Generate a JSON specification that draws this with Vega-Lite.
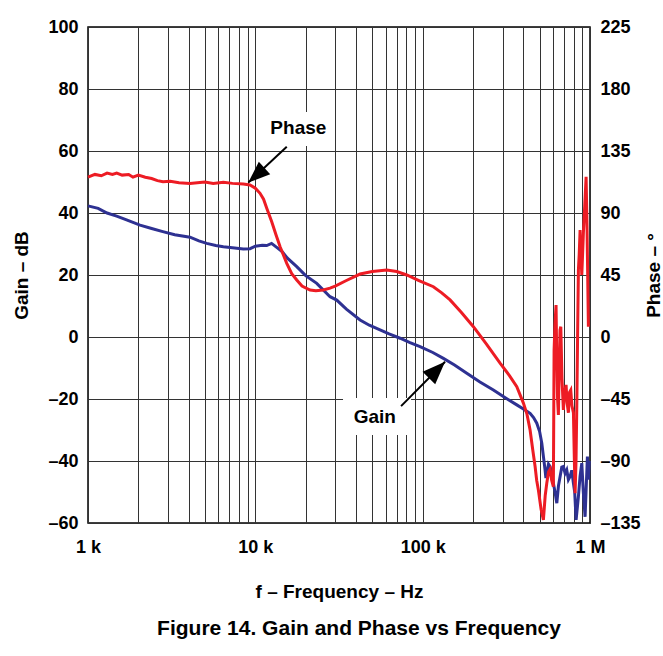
{
  "$schema": "https://vega.github.io/schema/vega-lite/v6.json",
  "width": 502,
  "height": 496,
  "autosize": {"type": "none"},
  "padding": {"left": 88, "top": 27, "right": 73, "bottom": 133},
  "background": "white",
  "config": {
    "view": {"stroke": "black", "strokeWidth": 1.5},
    "axis": {
      "labelFont": "Liberation Sans",
      "labelFontWeight": "bold",
      "labelFontSize": 18,
      "labelColor": "black",
      "titleFont": "Liberation Sans",
      "titleFontWeight": "bold",
      "titleFontSize": 19,
      "titleColor": "black",
      "ticks": false,
      "domain": false,
      "gridColor": "#333333",
      "gridWidth": 1,
      "gridOpacity": 1,
      "labelOverlap": false
    }
  },
  "title": {
    "text": "Figure 14. Gain and Phase vs Frequency",
    "orient": "bottom",
    "anchor": "middle",
    "font": "Liberation Sans",
    "fontSize": 21,
    "fontWeight": "bold",
    "color": "black",
    "dx": 20,
    "offset": 17
  },
  "datasets": {
    "gain": [
      {"f": 1000, "g": 42.3}, {"f": 1150, "g": 41.5}, {"f": 1300, "g": 40}, {"f": 1484, "g": 39},
      {"f": 1700, "g": 37.8}, {"f": 2046, "g": 36.1}, {"f": 2400, "g": 35}, {"f": 2800, "g": 34},
      {"f": 3300, "g": 33}, {"f": 4071, "g": 32.2}, {"f": 4600, "g": 31}, {"f": 5123, "g": 30.2},
      {"f": 5800, "g": 29.5}, {"f": 6438, "g": 29.1}, {"f": 7300, "g": 28.8}, {"f": 8478, "g": 28.4},
      {"f": 9300, "g": 28.5}, {"f": 10000, "g": 29.3}, {"f": 11000, "g": 29.6}, {"f": 11700, "g": 29.5},
      {"f": 12500, "g": 30.2}, {"f": 13420, "g": 28.9}, {"f": 14500, "g": 27.5}, {"f": 15500, "g": 25.5},
      {"f": 17680, "g": 22.7}, {"f": 20000, "g": 19.8}, {"f": 23280, "g": 17.3}, {"f": 27960, "g": 13},
      {"f": 30660, "g": 11.9}, {"f": 35000, "g": 9}, {"f": 42260, "g": 5.5}, {"f": 48000, "g": 3.8},
      {"f": 55610, "g": 2.3}, {"f": 63000, "g": 1}, {"f": 73280, "g": -0.4}, {"f": 84000, "g": -1.8},
      {"f": 96460, "g": -3.1}, {"f": 115000, "g": -5}, {"f": 133000, "g": -6.9}, {"f": 155000, "g": -9},
      {"f": 183500, "g": -11.7}, {"f": 220000, "g": -14.5}, {"f": 264600, "g": -17.1}, {"f": 310000, "g": -19.5},
      {"f": 365200, "g": -21.9}, {"f": 400000, "g": -23.2}, {"f": 438500, "g": -24.6}, {"f": 460000, "g": -26},
      {"f": 480800, "g": -27.8}, {"f": 500000, "g": -30.5}, {"f": 515200, "g": -34.3}, {"f": 528000, "g": -39},
      {"f": 539000, "g": -42.9}, {"f": 545000, "g": -45.5}, {"f": 552000, "g": -44}, {"f": 565000, "g": -41},
      {"f": 577500, "g": -41.8}, {"f": 590000, "g": -44}, {"f": 604000, "g": -47.2}, {"f": 618000, "g": -50},
      {"f": 633400, "g": -53.6}, {"f": 648000, "g": -48}, {"f": 662800, "g": -45}, {"f": 678000, "g": -42},
      {"f": 693400, "g": -41.8}, {"f": 710000, "g": -44}, {"f": 726200, "g": -42.9}, {"f": 743000, "g": -46},
      {"f": 760300, "g": -45}, {"f": 778000, "g": -43}, {"f": 796000, "g": -47.2}, {"f": 810000, "g": -50},
      {"f": 826000, "g": -59}, {"f": 840000, "g": -55}, {"f": 852500, "g": -51.5}, {"f": 872000, "g": -45},
      {"f": 893300, "g": -40.7}, {"f": 912000, "g": -50}, {"f": 934800, "g": -58}, {"f": 950000, "g": -48},
      {"f": 965000, "g": -38.6}, {"f": 978200, "g": -46}, {"f": 990000, "g": -40}
    ],
    "phase": [
      {"f": 1000, "p": 116}, {"f": 1100, "p": 118}, {"f": 1200, "p": 117}, {"f": 1300, "p": 119},
      {"f": 1400, "p": 118}, {"f": 1484, "p": 119}, {"f": 1600, "p": 117.5}, {"f": 1750, "p": 118},
      {"f": 1858, "p": 116}, {"f": 2000, "p": 117.5}, {"f": 2200, "p": 116}, {"f": 2400, "p": 115},
      {"f": 2600, "p": 113.5}, {"f": 2808, "p": 112.7}, {"f": 3100, "p": 113}, {"f": 3500, "p": 112},
      {"f": 4071, "p": 111.5}, {"f": 4500, "p": 112}, {"f": 5000, "p": 112.5}, {"f": 5600, "p": 111.5},
      {"f": 6438, "p": 112.3}, {"f": 7300, "p": 111.5}, {"f": 8478, "p": 111}, {"f": 9290, "p": 110.4},
      {"f": 10000, "p": 108}, {"f": 10670, "p": 104.3}, {"f": 11200, "p": 100}, {"f": 11700, "p": 93.4},
      {"f": 12530, "p": 83.7}, {"f": 13300, "p": 74}, {"f": 14060, "p": 65.5}, {"f": 15410, "p": 53.5},
      {"f": 16500, "p": 46}, {"f": 17680, "p": 41.4}, {"f": 19000, "p": 37}, {"f": 21230, "p": 34.1},
      {"f": 23000, "p": 33.5}, {"f": 25480, "p": 34.1}, {"f": 27960, "p": 35.5}, {"f": 30000, "p": 37},
      {"f": 35000, "p": 41}, {"f": 42260, "p": 45.7}, {"f": 50000, "p": 47.5}, {"f": 61000, "p": 48.6},
      {"f": 70000, "p": 47.5}, {"f": 80350, "p": 45}, {"f": 95000, "p": 41}, {"f": 115900, "p": 36.5},
      {"f": 130000, "p": 32}, {"f": 145800, "p": 26.9}, {"f": 170000, "p": 18}, {"f": 201000, "p": 7.5},
      {"f": 240000, "p": -5}, {"f": 290100, "p": -19}, {"f": 330000, "p": -28}, {"f": 365200, "p": -36},
      {"f": 399900, "p": -48}, {"f": 420000, "p": -56}, {"f": 438500, "p": -67.5}, {"f": 455000, "p": -82},
      {"f": 469800, "p": -94}, {"f": 480000, "p": -104}, {"f": 491500, "p": -111}, {"f": 510000, "p": -125},
      {"f": 526600, "p": -132.8}, {"f": 540000, "p": -115}, {"f": 551900, "p": -106}, {"f": 565000, "p": -98},
      {"f": 577500, "p": -96}, {"f": 590000, "p": -104}, {"f": 604000, "p": -108.6}, {"f": 607000, "p": -60},
      {"f": 610100, "p": -9.4}, {"f": 618000, "p": 10}, {"f": 626800, "p": 23.2}, {"f": 632000, "p": -10},
      {"f": 640000, "p": -45}, {"f": 647300, "p": -56.6}, {"f": 655000, "p": -20}, {"f": 662000, "p": 5},
      {"f": 669200, "p": 7.5}, {"f": 680000, "p": -30}, {"f": 693400, "p": -53}, {"f": 705000, "p": -40},
      {"f": 719500, "p": -34.8}, {"f": 730000, "p": -48}, {"f": 742900, "p": -55}, {"f": 755000, "p": -40},
      {"f": 767400, "p": -38.5}, {"f": 780000, "p": -50}, {"f": 796000, "p": -55}, {"f": 805000, "p": -85},
      {"f": 814700, "p": -113.4}, {"f": 825000, "p": -90}, {"f": 834400, "p": -48}, {"f": 843000, "p": 0},
      {"f": 852500, "p": 48.6}, {"f": 862000, "p": 60}, {"f": 872600, "p": 77.7}, {"f": 882000, "p": 60},
      {"f": 893300, "p": 45}, {"f": 903000, "p": 60}, {"f": 912900, "p": 75.3}, {"f": 930000, "p": 95},
      {"f": 947800, "p": 116.3}, {"f": 960000, "p": 80}, {"f": 978200, "p": 7.5}
    ],
    "notes": [
      {"label": "Phase", "tf": 18070, "tg": 67.5, "af1": 15410, "ag1": 61.4, "af2": 9080, "ag2": 49.8,
       "bf1": 10970, "bf2": 28740, "bg1": 72.6, "bg2": 61.6},
      {"label": "Gain", "tf": 51730, "tg": -25.7, "af1": 74300, "ag1": -22.3, "af2": 136100, "ag2": -8.0,
       "bf1": 33420, "bf2": 85260, "bg1": -19.7, "bg2": -31.6}
    ]
  },
  "layer": [
    {
      "data": {"name": "gain"},
      "mark": {"type": "line", "color": "#2E3192", "strokeWidth": 3, "interpolate": "linear"},
      "encoding": {
        "x": {
          "field": "f", "type": "quantitative",
          "scale": {"type": "log", "domain": [1000, 1000000], "nice": false},
          "axis": {
            "title": "f – Frequency – Hz",
            "values": [1000, 2000, 3000, 4000, 5000, 6000, 7000, 8000, 9000,
                       10000, 20000, 30000, 40000, 50000, 60000, 70000, 80000, 90000,
                       100000, 200000, 300000, 400000, 500000, 600000, 700000, 800000, 900000, 1000000],
            "grid": true,
            "labelExpr": "datum.value == 1000 ? '1 k' : datum.value == 10000 ? '10 k' : datum.value == 100000 ? '100 k' : datum.value == 1000000 ? '1 M' : ''",
            "labelPadding": 15,
            "titlePadding": 26,
            "labelFlush": false
          }
        },
        "y": {
          "field": "g", "type": "quantitative",
          "scale": {"domain": [-60, 100], "nice": false, "zero": false},
          "axis": {
            "title": "Gain – dB",
            "values": [-60, -40, -20, 0, 20, 40, 60, 80, 100],
            "grid": true,
            "labelExpr": "datum.value < 0 ? '–' + abs(datum.value) : '' + datum.value",
            "labelPadding": 10,
            "titlePadding": 16,
            "labelFlush": false
          }
        }
      }
    },
    {
      "data": {"name": "phase"},
      "mark": {"type": "line", "color": "#ED1C24", "strokeWidth": 3, "interpolate": "linear"},
      "encoding": {
        "x": {"field": "f", "type": "quantitative"},
        "y": {
          "field": "p", "type": "quantitative",
          "scale": {"domain": [-135, 225], "nice": false, "zero": false},
          "axis": {
            "orient": "right",
            "title": "Phase – °",
            "titleAngle": 270,
            "titleBaseline": "top",
            "values": [-135, -90, -45, 0, 45, 90, 135, 180, 225],
            "grid": false,
            "labelExpr": "datum.value < 0 ? '–' + abs(datum.value) : '' + datum.value",
            "labelPadding": 10,
            "titlePadding": 4,
            "labelFlush": false
          }
        }
      }
    },
    {
      "data": {"name": "notes"},
      "mark": {"type": "rect", "fill": "white", "stroke": null},
      "encoding": {
        "x": {"field": "bf1", "type": "quantitative"},
        "x2": {"field": "bf2"},
        "y": {"field": "bg1", "type": "quantitative", "scale": {"domain": [-60, 100], "nice": false, "zero": false}, "axis": null},
        "y2": {"field": "bg2"}
      }
    },
    {
      "data": {"name": "notes"},
      "mark": {"type": "rule", "color": "black", "strokeWidth": 2},
      "encoding": {
        "x": {"field": "af1", "type": "quantitative"},
        "x2": {"field": "af2"},
        "y": {"field": "ag1", "type": "quantitative", "scale": {"domain": [-60, 100], "nice": false, "zero": false}, "axis": null},
        "y2": {"field": "ag2"}
      }
    },
    {
      "data": {"name": "notes"},
      "transform": [{"filter": "datum.label == 'Phase'"}],
      "mark": {"type": "point", "shape": "M0,0L0.39,1L-0.39,1Z", "filled": true, "color": "black", "opacity": 1, "size": 1900, "angle": 228},
      "encoding": {
        "x": {"field": "af2", "type": "quantitative"},
        "y": {"field": "ag2", "type": "quantitative", "scale": {"domain": [-60, 100], "nice": false, "zero": false}, "axis": null}
      }
    },
    {
      "data": {"name": "notes"},
      "transform": [{"filter": "datum.label == 'Gain'"}],
      "mark": {"type": "point", "shape": "M0,0L0.39,1L-0.39,1Z", "filled": true, "color": "black", "opacity": 1, "size": 2100, "angle": 45},
      "encoding": {
        "x": {"field": "af2", "type": "quantitative"},
        "y": {"field": "ag2", "type": "quantitative", "scale": {"domain": [-60, 100], "nice": false, "zero": false}, "axis": null}
      }
    },
    {
      "data": {"name": "notes"},
      "mark": {"type": "text", "font": "Liberation Sans", "fontWeight": "bold", "fontSize": 19, "color": "black", "align": "center", "baseline": "middle"},
      "encoding": {
        "x": {"field": "tf", "type": "quantitative"},
        "y": {"field": "tg", "type": "quantitative", "scale": {"domain": [-60, 100], "nice": false, "zero": false}, "axis": null},
        "text": {"field": "label"}
      }
    }
  ],
  "resolve": {"scale": {"y": "independent"}}
}
